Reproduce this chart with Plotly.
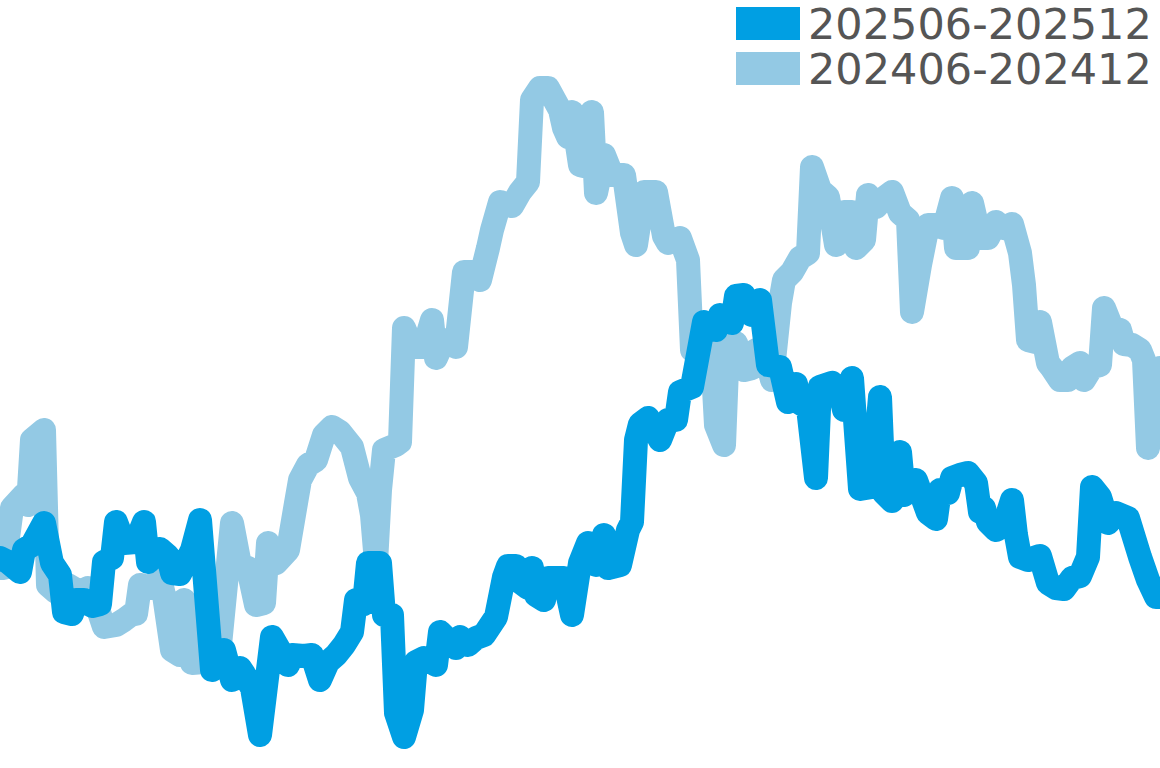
import plotly.graph_objects as go

# day offsets and values (two half-year windows)
days_2025 = [0, 2, 5, 6, 8, 11, 13, 15, 16, 18, 19, 21, 23, 25, 26, 28, 29, 31, 34, 36,
             37, 40, 42, 43, 45, 48, 50, 53, 56, 58, 60, 61, 63, 65, 68, 72, 73, 76, 78, 80,
             82, 84, 86, 88, 89, 91, 92, 95, 96, 98, 99, 101, 103, 104, 106, 109, 110, 114, 115, 117,
             119, 121, 124, 126, 127, 129, 130, 132, 133, 134, 136, 137, 141, 143, 145, 147, 149, 151, 152, 155,
             157, 158, 159, 160, 162, 165, 167, 169, 170, 173, 176, 179, 180, 183, 184, 186, 188, 190, 192, 195,
             197, 199, 200, 202, 204, 205, 208, 210, 211, 213, 215, 218, 220, 221, 223, 225, 226, 229, 232, 234,
             235, 237, 238, 240, 242, 244, 245, 246, 247, 249, 251, 253, 254, 255, 257, 260, 262, 264, 266, 268,
             270, 272, 273, 275, 277, 279, 282, 285, 287, 289, 290]
vals_2025 = [21.0, 20.6, 19.6, 21.8, 22.3, 24.5, 20.5, 19.3, 15.6, 15.4, 16.8, 16.8, 16.2, 16.4, 20.6, 21.0, 24.6, 22.5, 22.6, 24.6,
             20.6, 21.9, 21.2, 19.5, 19.4, 21.8, 24.8, 9.8, 11.8, 8.8, 10.0, 9.4, 8.0, 3.3, 13.1, 10.3, 11.3, 11.2, 11.3, 8.8,
             10.6, 11.3, 12.3, 13.6, 16.8, 16.4, 20.5, 20.5, 15.3, 15.3, 5.5, 3.1, 5.8, 10.6, 11.0, 10.3, 13.6, 12.0, 13.1, 12.3,
             13.0, 13.3, 15.1, 19.1, 20.2, 20.2, 18.6, 18.0, 20.0, 17.3, 16.8, 19.0, 19.0, 15.3, 20.5, 22.5, 20.3, 23.3, 20.0, 20.3,
             23.8, 24.6, 32.8, 34.4, 35.0, 32.8, 34.8, 34.8, 37.6, 38.1, 44.6, 43.8, 45.3, 44.5, 47.2, 47.3, 45.3, 46.8, 40.3, 40.1,
             36.6, 38.4, 36.5, 36.0, 29.0, 38.1, 38.5, 37.6, 35.8, 39.0, 27.9, 28.1, 37.1, 27.5, 26.7, 31.6, 27.3, 28.8, 25.5, 24.9,
             27.8, 27.5, 29.0, 29.3, 29.5, 28.5, 25.6, 26.0, 24.6, 23.8, 24.3, 26.8, 23.3, 21.1, 20.8, 21.2, 18.5, 18.0, 17.9, 19.0,
             19.2, 21.1, 28.1, 27.1, 24.5, 25.5, 25.0, 21.1, 18.8, 17.1, 17.1]

days_2024 = [0, 1, 3, 6, 7, 8, 11, 12, 14, 17, 20, 22, 24, 26, 29, 31, 33, 34, 35, 38,
             40, 41, 43, 45, 46, 48, 51, 55, 58, 60, 62, 64, 66, 67, 69, 72, 74, 75, 77, 79,
             81, 83, 85, 88, 90, 92, 93, 94, 95, 96, 99, 100, 101, 103, 106, 108, 109, 111, 114, 116,
             119, 120, 122, 123, 125, 128, 130, 132, 133, 135, 137, 140, 141, 142, 143, 145, 146, 148, 149, 151,
             153, 156, 158, 159, 161, 164, 166, 167, 170, 172, 173, 175, 178, 179, 181, 182, 184, 186, 188, 189,
             191, 193, 195, 196, 198, 200, 202, 203, 205, 207, 209, 211, 213, 214, 216, 217, 219, 221, 223, 225,
             227, 228, 230, 232, 234, 236, 238, 239, 242, 243, 245, 247, 249, 251, 253, 255, 256, 257, 259, 260,
             262, 263, 265, 267, 268, 270, 271, 273, 275, 276, 278, 280, 281, 283, 285, 286, 287, 289, 290]
vals_2024 = [20.0, 20.0, 26.0, 27.3, 26.3, 32.8, 33.8, 18.3, 17.6, 18.3, 17.6, 18.0, 16.5, 14.1, 14.3, 14.8, 15.4, 15.4, 18.3, 18.0,
             19.0, 17.3, 11.8, 11.3, 16.8, 10.5, 10.6, 12.3, 24.5, 20.3, 20.0, 16.3, 16.5, 22.5, 20.5, 21.8, 26.5, 28.8, 30.3, 30.8,
             33.3, 34.1, 33.6, 32.1, 29.0, 27.5, 25.3, 20.5, 27.8, 31.8, 32.3, 32.6, 44.0, 42.1, 42.1, 44.8, 41.0, 42.8, 42.1, 49.6,
             49.6, 48.8, 52.0, 53.8, 56.6, 56.2, 57.6, 58.6, 66.8, 68.0, 68.0, 65.8, 64.0, 63.1, 65.6, 60.3, 60.2, 65.6, 57.5, 61.3,
             59.3, 59.3, 53.5, 52.3, 57.6, 57.6, 53.2, 52.5, 53.0, 50.8, 41.8, 41.3, 41.6, 34.3, 32.3, 42.5, 42.5, 39.8, 40.0, 41.8,
             41.8, 38.8, 46.5, 48.8, 49.6, 51.0, 51.5, 60.1, 57.8, 57.1, 52.3, 55.6, 55.6, 52.0, 52.8, 57.3, 56.1, 57.0, 57.6, 55.5,
             54.8, 45.6, 50.3, 54.3, 54.3, 54.0, 57.0, 52.0, 52.0, 56.5, 53.0, 53.0, 54.6, 54.0, 54.4, 51.5, 48.3, 42.8, 42.6, 44.6,
             40.5, 40.0, 38.8, 38.8, 40.0, 40.5, 38.8, 40.1, 40.3, 46.0, 44.0, 43.8, 42.4, 42.3, 41.8, 40.8, 32.0, 39.8, 40.0]

series_names = ["202506-202512", "202406-202412"]
series_colors = ["#009fe3", "#93c9e4"]
line_w = 24

fig = go.Figure()

# older period underneath, current period on top
fig.add_trace(go.Scatter(x=days_2024, y=vals_2024, mode="lines", name=series_names[1],
                         line=dict(color=series_colors[1], width=line_w, simplify=False),
                         showlegend=False))
fig.add_trace(go.Scatter(x=days_2025, y=vals_2025, mode="lines", name=series_names[0],
                         line=dict(color=series_colors[0], width=line_w, simplify=False),
                         showlegend=False))

# legend with block swatches, drawn by hand
for i, (name, color) in enumerate(zip(series_names, series_colors)):
    top = 1 - (7 + i * 45) / 768
    fig.add_shape(type="rect", xref="paper", yref="paper",
                  x0=736 / 1160, x1=800 / 1160, y0=top - 33 / 768, y1=top,
                  fillcolor=color, line_width=0)
    fig.add_annotation(xref="paper", yref="paper", x=806 / 1160, y=top - 16.5 / 768,
                       text=name, showarrow=False, xanchor="left", yanchor="middle",
                       height=42, valign="middle",
                       font=dict(family="DejaVu Sans", size=43, color="#555555"))

fig.update_layout(width=1160, height=768,
                  margin={"r": 0, "t": 0, "l": 0, "b": 0},
                  plot_bgcolor="white", paper_bgcolor="white",
                  xaxis=dict(range=[0, 290], visible=False),
                  yaxis=dict(range=[0, 76.8], visible=False))

# page flush to the window, rounded line joins like the original
fix_page = """
document.body.style.margin = '0';
document.body.style.overflow = 'hidden';
document.querySelectorAll('.js-line').forEach(function (p) {
    p.style.strokeLinejoin = 'round';
    p.style.strokeLinecap = 'round';
});
"""
fig.write_html("out.html", post_script=fix_page,
               config={"displayModeBar": False, "staticPlot": True})
